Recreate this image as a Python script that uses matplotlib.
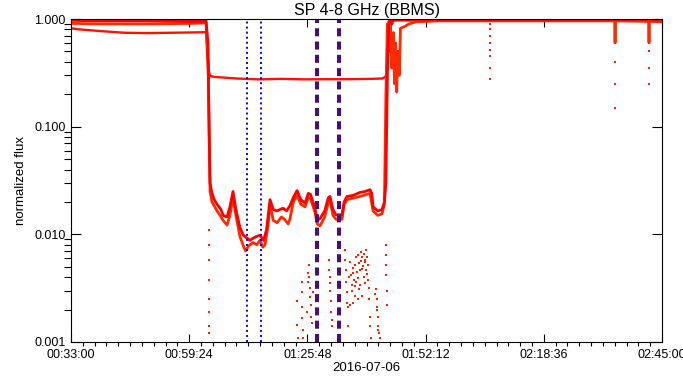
import numpy as np
import pandas as pd
import matplotlib
matplotlib.use('Agg')
from matplotlib import pyplot as plt
import matplotlib.dates as mdates
from matplotlib.ticker import LogLocator, NullFormatter

plt.rcParams['font.family'] = ['Liberation Sans', 'DejaVu Sans']

day = '2016-07-06 '

# channel 1: top band before the drop, upper curve of the low cluster
ch1_t = ['00:33:00', '00:40:00', '00:50:00', '01:00:00', '01:03:10', '01:03:36', '01:03:50',
         '01:04:03', '01:04:30', '01:05:00', '01:05:37', '01:06:30', '01:06:57', '01:07:51',
         '01:08:30', '01:09:11', '01:09:50', '01:10:45', '01:11:30', '01:12:19', '01:13:00',
         '01:13:39', '01:14:30', '01:15:13', '01:16:00', '01:16:40', '01:17:27', '01:18:10',
         '01:19:01', '01:20:21', '01:21:10', '01:21:55', '01:22:40', '01:23:29', '01:24:20',
         '01:25:16', '01:26:00', '01:26:30', '01:27:30', '01:28:00', '01:28:37', '01:29:40',
         '01:30:30', '01:30:51', '01:31:30', '01:32:10', '01:33:32', '01:34:00', '01:34:39',
         '01:36:00', '01:37:33', '01:38:40', '01:39:47', '01:40:10', '01:40:28', '01:41:30',
         '01:42:28', '01:43:00', '01:43:20', '01:43:40', '01:44:00', '01:44:20', '01:44:40',
         '01:45:00', '01:46:00', '01:50:00', '02:45:00']
ch1_v = [0.97, 0.96, 0.96, 0.95, 0.96, 0.6, 0.1,
         0.03, 0.024, 0.021, 0.019, 0.017, 0.015, 0.0145,
         0.018, 0.025, 0.017, 0.0115, 0.0098, 0.0092, 0.0088,
         0.0092, 0.0096, 0.0098, 0.0088, 0.011, 0.021, 0.017,
         0.0165, 0.0175, 0.0165, 0.0185, 0.022, 0.0255, 0.021,
         0.0195, 0.024, 0.0235, 0.0175, 0.0135, 0.014, 0.0165,
         0.022, 0.0225, 0.017, 0.0152, 0.0152, 0.02, 0.0225,
         0.023, 0.0245, 0.025, 0.026, 0.024, 0.018, 0.0165,
         0.017, 0.02, 0.03, 0.3, 0.95, 0.98, 0.9,
         0.98, 0.99, 0.99, 0.99]

# channel 2: second band before the drop, lower curve of the cluster
ch2_t = ['00:33:00', '00:40:00', '00:50:00', '01:00:00', '01:03:10', '01:03:40', '01:04:03',
         '01:04:30', '01:05:37', '01:06:30', '01:06:57', '01:07:51', '01:08:30', '01:09:11',
         '01:09:50', '01:10:45', '01:11:30', '01:12:00', '01:12:40', '01:13:39', '01:14:30',
         '01:15:13', '01:15:50', '01:16:20', '01:17:00', '01:17:27', '01:18:10', '01:19:01',
         '01:20:00', '01:20:40', '01:21:30', '01:21:55', '01:22:40', '01:23:29', '01:24:20',
         '01:25:16', '01:26:00', '01:26:30', '01:27:30', '01:28:00', '01:28:37', '01:29:40',
         '01:30:30', '01:30:51', '01:31:30', '01:32:10', '01:33:32', '01:34:00', '01:34:39',
         '01:37:33', '01:39:47', '01:40:28', '01:41:30', '01:42:28', '01:43:00', '01:43:20',
         '01:43:40', '01:44:00', '01:44:20', '01:44:40', '01:45:00', '01:45:15', '01:45:30',
         '01:45:45', '01:46:00', '01:46:20', '01:46:35', '01:47:30', '01:48:30', '01:50:00',
         '01:55:00', '02:10:00', '02:34:25', '02:34:31', '02:34:37', '02:42:00', '02:42:06',
         '02:42:12', '02:45:00']
ch2_v = [0.91, 0.90, 0.90, 0.91, 0.92, 0.3, 0.025,
         0.02, 0.0165, 0.0145, 0.0135, 0.0122, 0.015, 0.022,
         0.015, 0.0095, 0.0078, 0.0070, 0.0078, 0.0084, 0.0080,
         0.0088, 0.0076, 0.008, 0.012, 0.019, 0.0135, 0.0128,
         0.0145, 0.0138, 0.0125, 0.014, 0.02, 0.023, 0.019,
         0.018, 0.022, 0.0215, 0.016, 0.0125, 0.012, 0.0145,
         0.02, 0.021, 0.015, 0.0138, 0.0138, 0.019, 0.021,
         0.0225, 0.024, 0.0165, 0.015, 0.0155, 0.019, 0.2,
         0.9, 0.5, 0.9, 0.35, 0.75, 0.25, 0.6,
         0.21, 0.5, 0.3, 0.82, 0.85, 0.9, 0.94,
         0.96, 0.96, 0.96, 0.6, 0.96, 0.95, 0.6,
         0.95, 0.94]

# channel 3: lower line before the drop, ~0.28 plateau during it
ch3_t = ['00:33:00', '00:35:00', '00:40:00', '00:45:00', '00:50:00', '00:55:00', '01:00:00',
         '01:03:10', '01:03:30', '01:03:50', '01:04:10', '01:05:00', '01:10:00', '01:15:00',
         '01:20:00', '01:25:00', '01:30:00', '01:35:00', '01:40:00', '01:42:30', '01:43:10',
         '01:43:30', '01:43:50', '01:44:10', '01:50:00', '02:45:00']
ch3_v = [0.82, 0.80, 0.77, 0.745, 0.74, 0.745, 0.75,
         0.755, 0.5, 0.32, 0.295, 0.29, 0.28, 0.275,
         0.278, 0.275, 0.276, 0.276, 0.278, 0.28, 0.29,
         0.3, 0.9, 0.97, 0.97, 0.97]

# isolated samples
dots_t = ['01:23:29', '01:23:29', '01:23:42', '01:24:36', '01:24:36', '01:24:36', '01:24:36',
          '01:24:49', '01:24:49', '01:26:10', '01:26:10', '01:26:23', '01:26:23', '01:26:37',
          '01:26:37', '01:26:50', '01:25:56', '01:27:03', '01:30:38', '01:30:38', '01:30:51',
          '01:30:51', '01:31:04', '01:31:04', '01:31:18', '01:31:18', '01:34:12', '01:34:12',
          '01:34:26', '01:34:26', '01:34:39', '01:34:39', '01:34:52', '01:34:52', '01:35:19',
          '01:35:32', '01:35:46', '01:35:59', '01:36:13', '01:36:26', '01:36:40', '01:36:53',
          '01:37:06', '01:37:20', '01:37:33', '01:37:46', '01:38:00', '01:38:13', '01:38:27',
          '01:38:40', '01:38:53', '01:38:53', '01:39:07', '01:39:20', '01:37:33', '01:37:06',
          '01:39:34', '01:39:34', '01:39:47', '01:39:47', '01:40:01', '01:41:08', '01:41:21',
          '01:41:21', '01:41:34', '01:41:34', '01:41:48', '01:42:01', '01:43:22', '01:43:22',
          '01:43:22', '01:43:22', '01:43:35', '01:43:35', '01:03:49', '01:03:49', '01:03:49',
          '01:03:49', '01:03:49', '01:03:49', '01:03:49', '01:03:49', '02:06:35', '02:06:35',
          '02:06:35', '02:06:35', '02:06:35', '02:34:31', '02:34:31', '02:34:31', '02:42:06',
          '02:42:06', '02:42:06',
          '01:36:00', '01:36:30', '01:37:00', '01:37:40', '01:38:05', '01:38:35', '01:39:00',
          '01:36:20', '01:37:15', '01:38:20', '01:35:40', '01:36:45', '01:37:55', '01:38:45',
          '01:35:10', '01:36:05', '01:39:15', '01:35:25', '01:25:40', '01:26:00', '01:30:45',
          '01:40:55', '01:41:15', '01:41:40', '02:06:35', '02:06:35', '02:06:35']
dots_v = [0.0024, 0.00144, 0.0011, 0.0036, 0.0029, 0.0021, 0.00168,
          0.0013, 0.0011, 0.0052, 0.0040, 0.0032, 0.0026, 0.0022,
          0.0017, 0.0015, 0.0036, 0.0029, 0.0058, 0.0047, 0.0040,
          0.0030, 0.0024, 0.0019, 0.0016, 0.0014, 0.0072, 0.0058,
          0.0047, 0.0036, 0.0029, 0.0023, 0.0021, 0.0014, 0.0055,
          0.0042, 0.0034, 0.0049, 0.0038, 0.0027, 0.0061, 0.0045,
          0.0064, 0.0054, 0.0047, 0.0069, 0.0061, 0.0051, 0.0066,
          0.0055, 0.0072, 0.0047, 0.0061, 0.0052, 0.0034, 0.0025,
          0.0032, 0.0025, 0.0017, 0.0014, 0.0011, 0.0031, 0.0025,
          0.0020, 0.0017, 0.0014, 0.0012, 0.0011, 0.0080, 0.0064,
          0.0052, 0.0042, 0.0030, 0.0022, 0.011, 0.008, 0.0058,
          0.0038, 0.0025, 0.0019, 0.0014, 0.0012, 0.8, 0.6,
          0.45, 0.35, 0.28, 0.4, 0.25, 0.15, 0.5,
          0.35, 0.25,
          0.0044, 0.0052, 0.0039, 0.0057, 0.0048, 0.0058, 0.0043,
          0.0033, 0.0031, 0.0040, 0.0030, 0.0036, 0.0027, 0.0035,
          0.0040, 0.0023, 0.0038, 0.0022, 0.0019, 0.0044, 0.0035,
          0.0028, 0.0021, 0.0013, 0.9, 0.7, 0.52]

blue_t = ['01:12:19', '01:15:26']
purple_t = ['01:27:50', '01:32:45']

x_start = '00:33:00'
x_end = '02:45:00'
y_ticks = [0.001, 0.01, 0.1, 1.0]
y_labels = ['0.001', '0.010', '0.100', '1.000']


def tt(lst):
    return pd.to_datetime([day + s for s in lst])


fig = plt.figure(figsize=(6.83, 3.84), dpi=100)
ax = fig.add_axes([71 / 683, 42 / 384, 591 / 683, 323 / 384])

ax.plot(tt(ch3_t), ch3_v, color='#ff1000', lw=1.7)
ax.plot(tt(ch2_t), ch2_v, color='#ff2a00', lw=2.0)
ax.plot(tt(ch1_t), ch1_v, color='#ff0000', lw=2.0)
ax.scatter(tt(dots_t), dots_v, s=2.5, marker='s', color='#ff2000', lw=0)

for t in tt(blue_t):
    ax.axvline(t, color='#0000ff', lw=1.4, linestyle=(0, (1, 1.6)))
for t in tt(purple_t):
    ax.axvline(t, color='#4b0c7c', lw=2.9, linestyle=(0, (2, 1.3)))

ax.set_yscale('log')
ax.set_ylim(0.001, 1.0)
ax.set_xlim(pd.Timestamp(day + x_start), pd.Timestamp(day + x_end))

ax.set_xticks(pd.date_range(day + x_start, day + x_end, periods=6))
ax.set_xticks(pd.date_range(day + x_start, day + x_end, periods=51), minor=True)
ax.xaxis.set_major_formatter(mdates.DateFormatter('%H:%M:%S'))

ax.set_yticks(y_ticks)
ax.set_yticklabels(y_labels)
ax.yaxis.set_minor_locator(LogLocator(base=10, subs=np.arange(2, 10)))
ax.yaxis.set_minor_formatter(NullFormatter())

ax.tick_params(direction='in', top=True, right=True, labelsize=9, width=0.8)
ax.tick_params(axis='x', which='major', length=6, pad=5)
ax.tick_params(axis='x', which='minor', length=3, width=0.8)
ax.tick_params(axis='y', which='major', length=7.5, pad=4)
ax.tick_params(axis='y', which='minor', length=5, width=0.8)
for s in ax.spines.values():
    s.set_linewidth(0.8)

ax.set_title('SP 4-8 GHz (BBMS)', fontsize=11.5, pad=3)
ax.set_xlabel('2016-07-06', fontsize=9.5, labelpad=1)
ax.set_ylabel('normalized flux', fontsize=9.5, labelpad=5)

fig.savefig('out.png', dpi=100)
